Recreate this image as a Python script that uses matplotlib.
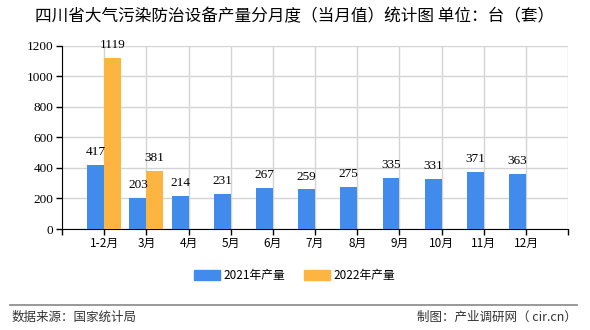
import numpy as np
import matplotlib.pyplot as plt
from matplotlib.patches import Patch

plt.rcParams['font.family'] = ['Noto Sans CJK SC', 'DejaVu Sans']

# data
months = ['1-2月', '3月', '4月', '5月', '6月', '7月', '8月', '9月', '10月', '11月', '12月']
prod_2021 = [417, 203, 214, 231, 267, 259, 275, 335, 331, 371, 363]
prod_2022 = [1119, 381]
series_names = ['2021年产量', '2022年产量']

blue = '#418BEC'
orange = '#FDB541'

fig = plt.figure(figsize=(5.9, 3.3), dpi=100)
ax = fig.add_axes([0.105, 0.306, 0.858, 0.555])

x = np.arange(len(months))
w = 0.4
b1 = ax.bar(x[:len(prod_2021)] - w / 2, prod_2021, w, color=blue, zorder=3)
b2 = ax.bar(x[:len(prod_2022)] + w / 2, prod_2022, w, color=orange, zorder=3)

num_font = dict(family='Liberation Serif', fontsize=9.5)
for bars, vals in [(b1, prod_2021), (b2, prod_2022)]:
    for r, v in zip(bars, vals):
        ax.annotate(str(v), (r.get_x() + r.get_width() / 2, v),
                    xytext=(0, 5), textcoords='offset points',
                    ha='center', va='bottom', **num_font)

ax.set_xlim(-1, len(months))
ax.set_ylim(0, 1200)
ax.set_yticks(range(0, 1201, 200))
ax.set_xticks(list(x) + [-1, len(months)])
ax.set_xticklabels(months + ['', ''])
for lbl in ax.get_yticklabels():
    lbl.set_fontfamily('Liberation Serif')
    lbl.set_fontsize(9.5)
for lbl in ax.get_xticklabels():
    lbl.set_fontsize(8.5)

ax.grid(True, color='#d4d4d4', linewidth=1, zorder=0)
ax.spines['top'].set_visible(False)
ax.spines['right'].set_visible(False)
ax.tick_params(axis='both', direction='out', length=4, width=1, colors='black', pad=2)

fig.text(0.5, 0.948, '四川省大气污染防治设备产量分月度（当月值）统计图 单位：台（套）',
         ha='center', va='center', fontsize=12)

handles = [Patch(color=blue), Patch(color=orange)]
fig.legend(handles, series_names, loc='center', bbox_to_anchor=(0.5, 0.165),
           ncol=2, frameon=False, fontsize=8.5, handlelength=2.2, handleheight=0.9,
           columnspacing=1.6, handletextpad=0.3)

fig.add_artist(plt.Line2D([0.017, 0.978], [0.075, 0.075], color='#888888', linewidth=1.2))
fig.text(0.02, 0.038, '数据来源：国家统计局', ha='left', va='center', fontsize=9, color='#333333')
fig.text(0.978, 0.038, '制图：产业调研网（ cir.cn）', ha='right', va='center', fontsize=9, color='#333333')

fig.savefig('out.png', dpi=100)
